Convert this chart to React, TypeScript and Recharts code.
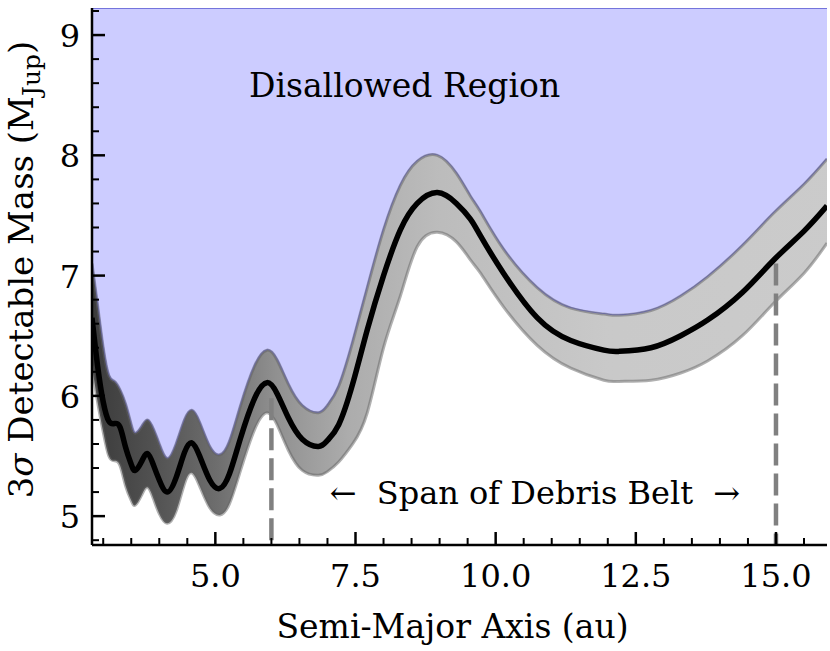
import { ComposedChart, Area, Line, XAxis, YAxis, ReferenceDot, Label } from "recharts";

const FONT = "DejaVu Serif";

// semi-major axis (au) and 3-sigma detectable mass (M_Jup)
const semiMajor = [
  2.8, 2.9, 3.0, 3.1, 3.2, 3.3, 3.4, 3.5, 3.57, 3.68,
  3.79, 3.9, 4.0, 4.14, 4.3, 4.45, 4.58, 4.72, 4.9, 5.08,
  5.25, 5.45, 5.7, 5.92, 6.1, 6.3, 6.55, 6.84, 7.0, 7.2,
  7.45, 7.71, 8.0, 8.3, 8.6, 8.96, 9.3, 9.55, 9.73, 10.14,
  10.74, 11.34, 11.93, 12.2, 12.77, 13.3, 13.78, 14.4, 14.96, 15.5,
  15.91,
];
const massMedian = [
  6.65, 6.25, 5.95, 5.79, 5.77, 5.74, 5.57, 5.43, 5.38, 5.45,
  5.52, 5.42, 5.3, 5.2, 5.32, 5.53, 5.61, 5.5, 5.3, 5.23,
  5.35, 5.65, 5.98, 6.11, 6.02, 5.82, 5.64, 5.58, 5.63, 5.76,
  6.1, 6.55, 7.0, 7.38, 7.6, 7.69, 7.6, 7.47, 7.33, 7.02,
  6.65, 6.46, 6.38, 6.37, 6.4, 6.5, 6.63, 6.86, 7.13, 7.37,
  7.58,
];
const massUpper = [
  7.1, 6.75, 6.4, 6.17, 6.12, 6.05, 5.93, 5.76, 5.69, 5.74,
  5.8, 5.72, 5.6, 5.48, 5.6, 5.8, 5.88, 5.78, 5.58, 5.51,
  5.62, 5.92, 6.25, 6.38, 6.3, 6.1, 5.92, 5.86, 5.92, 6.08,
  6.45, 6.9, 7.38, 7.75, 7.95, 8.0, 7.85, 7.66, 7.53, 7.22,
  6.9, 6.73, 6.68, 6.67, 6.71, 6.83, 6.99, 7.25, 7.52, 7.76,
  7.97,
];
const massLower = [
  6.25, 5.95, 5.7, 5.5, 5.46, 5.42, 5.25, 5.13, 5.09, 5.17,
  5.24, 5.14, 5.02, 4.94, 5.04, 5.27, 5.36, 5.25, 5.07, 5.01,
  5.1, 5.38, 5.72, 5.86, 5.76, 5.55, 5.38, 5.34, 5.37, 5.45,
  5.6, 5.86, 6.4, 6.83, 7.24, 7.36, 7.28, 7.13, 7.02, 6.74,
  6.42, 6.23, 6.13, 6.12, 6.13, 6.19, 6.29, 6.5, 6.77, 7.02,
  7.27,
];

// debris belt inner/outer edge and where the dashed markers start
const beltEdges = [6, 15];
const beltTops = [5.98, 7.1];

const xMajor = [5, 7.5, 10, 12.5, 15];
const xTicks = [3, 3.5, 4, 4.5, 5, 5.5, 6, 6.5, 7, 7.5, 8, 8.5, 9, 9.5, 10, 10.5, 11, 11.5, 12, 12.5, 13, 13.5, 14, 14.5, 15, 15.5];
const yMajor = [5, 6, 7, 8, 9];
const yTicks = [4.8, 5, 5.2, 5.4, 5.6, 5.8, 6, 6.2, 6.4, 6.6, 6.8, 7, 7.2, 7.4, 7.6, 7.8, 8, 8.2, 8.4, 8.6, 8.8, 9, 9.2];

const xDomain = [2.8, 15.91];
const yDomain = [4.76, 9.225];

const disallowedPos = { a: 8.375, m: 8.485 };
const spanPos = { a: 10.7, m: 5.1 };

const data = semiMajor.map((a, i) => ({
  a,
  med: massMedian[i],
  band: [massLower[i], massUpper[i]],
  dis: [massUpper[i], yDomain[1]],
}));

const beltLines = beltEdges.map((e, i) => [
  { a: e, v: beltTops[i] },
  { a: e, v: yDomain[0] },
]);

const near = (list: number[], v: number) => list.some((m) => Math.abs(m - v) < 1e-6);

function BottomTick({ x, y, payload }: any) {
  const major = near(xMajor, payload.value);
  return (
    <g>
      <line x1={x} x2={x} y1={y} y2={y - (major ? 13 : 7)} stroke="#000" strokeWidth={major ? 2.5 : 2} />
      {major && (
        <text x={x} y={y + 42} textAnchor="middle" fontSize={32} fontFamily={FONT} fill="#000">
          {payload.value.toFixed(1)}
        </text>
      )}
    </g>
  );
}

function TopTick({ x, y, payload }: any) {
  const major = near(xMajor, payload.value);
  return <line x1={x} x2={x} y1={y} y2={y + (major ? 13 : 7)} stroke="#000" strokeWidth={major ? 2.5 : 2} />;
}

function LeftTick({ x, y, payload }: any) {
  const major = near(yMajor, payload.value);
  return (
    <g>
      <line x1={x} x2={x + (major ? 13 : 7)} y1={y} y2={y} stroke="#000" strokeWidth={major ? 2.5 : 2} />
      {major && (
        <text x={x - 12} y={y + 12} textAnchor="end" fontSize={32} fontFamily={FONT} fill="#000">
          {Math.round(payload.value)}
        </text>
      )}
    </g>
  );
}

function RightTick({ x, y, payload }: any) {
  const major = near(yMajor, payload.value);
  return <line x1={x} x2={x - (major ? 13 : 7)} y1={y} y2={y} stroke="#000" strokeWidth={major ? 2.5 : 2} />;
}

export default function App() {
  const frame = { stroke: "#000", strokeWidth: 2.5 };
  return (
    <div style={{ width: 830, height: 651 }}>
      <style>{"body{margin:0}"}</style>
      <ComposedChart width={830} height={651} data={data} margin={{ top: 8, right: 3, bottom: 0, left: 0 }}>
        <defs>
          <linearGradient id="bandFill" x1="0" y1="0" x2="1" y2="0">
            <stop offset="0" stopColor="#303030" />
            <stop offset="0.08" stopColor="#474747" />
            <stop offset="0.17" stopColor="#666" />
            <stop offset="0.25" stopColor="#8a8a8a" />
            <stop offset="0.35" stopColor="#a8a8a8" />
            <stop offset="0.47" stopColor="#b8b8b8" />
            <stop offset="0.7" stopColor="#c6c6c6" />
            <stop offset="1" stopColor="#c8c8c8" />
          </linearGradient>
        </defs>
        <XAxis
          dataKey="a"
          type="number"
          domain={xDomain}
          allowDataOverflow
          ticks={xTicks}
          interval={0}
          height={106}
          tickSize={0}
          tickMargin={0}
          tickLine={false}
          axisLine={frame}
          tick={<BottomTick />}
        >
          <Label
            content={(p: any) => {
              const vb = p.viewBox;
              return (
                <text x={vb.x + vb.width / 2 - 7} y={vb.y + 93} textAnchor="middle" fontSize={33} fontFamily={FONT} fill="#000">
                  Semi-Major Axis (au)
                </text>
              );
            }}
          />
        </XAxis>
        <XAxis
          xAxisId="top"
          orientation="top"
          dataKey="a"
          type="number"
          domain={xDomain}
          allowDataOverflow
          ticks={xTicks}
          interval={0}
          height={0}
          tickSize={0}
          tickMargin={0}
          tickLine={false}
          axisLine={frame}
          tick={<TopTick />}
        />
        <YAxis
          type="number"
          domain={yDomain}
          allowDataOverflow
          ticks={yTicks}
          interval={0}
          width={92}
          tickSize={0}
          tickMargin={0}
          tickLine={false}
          axisLine={frame}
          tick={<LeftTick />}
        >
          <Label
            content={(p: any) => {
              const vb = p.viewBox;
              const cx = 33;
              const cy = vb.y + vb.height / 2 - 7;
              return (
                <text
                  x={cx}
                  y={cy}
                  transform={`rotate(-90, ${cx}, ${cy})`}
                  textAnchor="middle"
                  fontSize={34}
                  fontFamily={FONT}
                  fill="#000"
                >
                  <tspan>3</tspan>
                  <tspan fontStyle="italic">σ</tspan>
                  <tspan> Detectable Mass (M</tspan>
                  <tspan dy={7} fontSize={25}>Jup</tspan>
                  <tspan dy={-7}>)</tspan>
                </text>
              );
            }}
          />
        </YAxis>
        <YAxis
          yAxisId="right"
          orientation="right"
          type="number"
          domain={yDomain}
          allowDataOverflow
          ticks={yTicks}
          interval={0}
          width={0}
          tickSize={0}
          tickMargin={0}
          tickLine={false}
          axisLine={frame}
          tick={<RightTick />}
        />
        <Area
          dataKey="dis"
          type="natural"
          fill="#ccccff"
          fillOpacity={1}
          stroke="#7474dc"
          strokeWidth={2}
          isAnimationActive={false}
        />
        <Area
          dataKey="band"
          type="natural"
          fill="url(#bandFill)"
          fillOpacity={0.95}
          stroke="rgba(100,100,100,0.5)"
          strokeWidth={3}
          isAnimationActive={false}
        />
        {beltLines.map((pts, i) => (
          <Line
            key={i}
            data={pts}
            dataKey="v"
            stroke="#808080"
            strokeWidth={4.5}
            strokeDasharray="22 8"
            dot={false}
            isAnimationActive={false}
          />
        ))}
        <Line
          dataKey="med"
          type="natural"
          stroke="#000"
          strokeWidth={5.5}
          dot={false}
          isAnimationActive={false}
        />
        <ReferenceDot
          x={disallowedPos.a}
          y={disallowedPos.m}
          r={1}
          shape={(p: any) => (
            <text x={p.cx} y={p.cy} textAnchor="middle" fontSize={33} fontFamily={FONT} fill="#000">
              Disallowed Region
            </text>
          )}
        />
        <ReferenceDot
          x={spanPos.a}
          y={spanPos.m}
          r={1}
          shape={(p: any) => (
            <text x={p.cx} y={p.cy} textAnchor="middle" fontSize={32} fontFamily={FONT} fill="#000">
              <tspan>←</tspan>
              <tspan dx={10}> Span of Debris Belt </tspan>
              <tspan dx={10}>→</tspan>
            </text>
          )}
        />
      </ComposedChart>
    </div>
  );
}
